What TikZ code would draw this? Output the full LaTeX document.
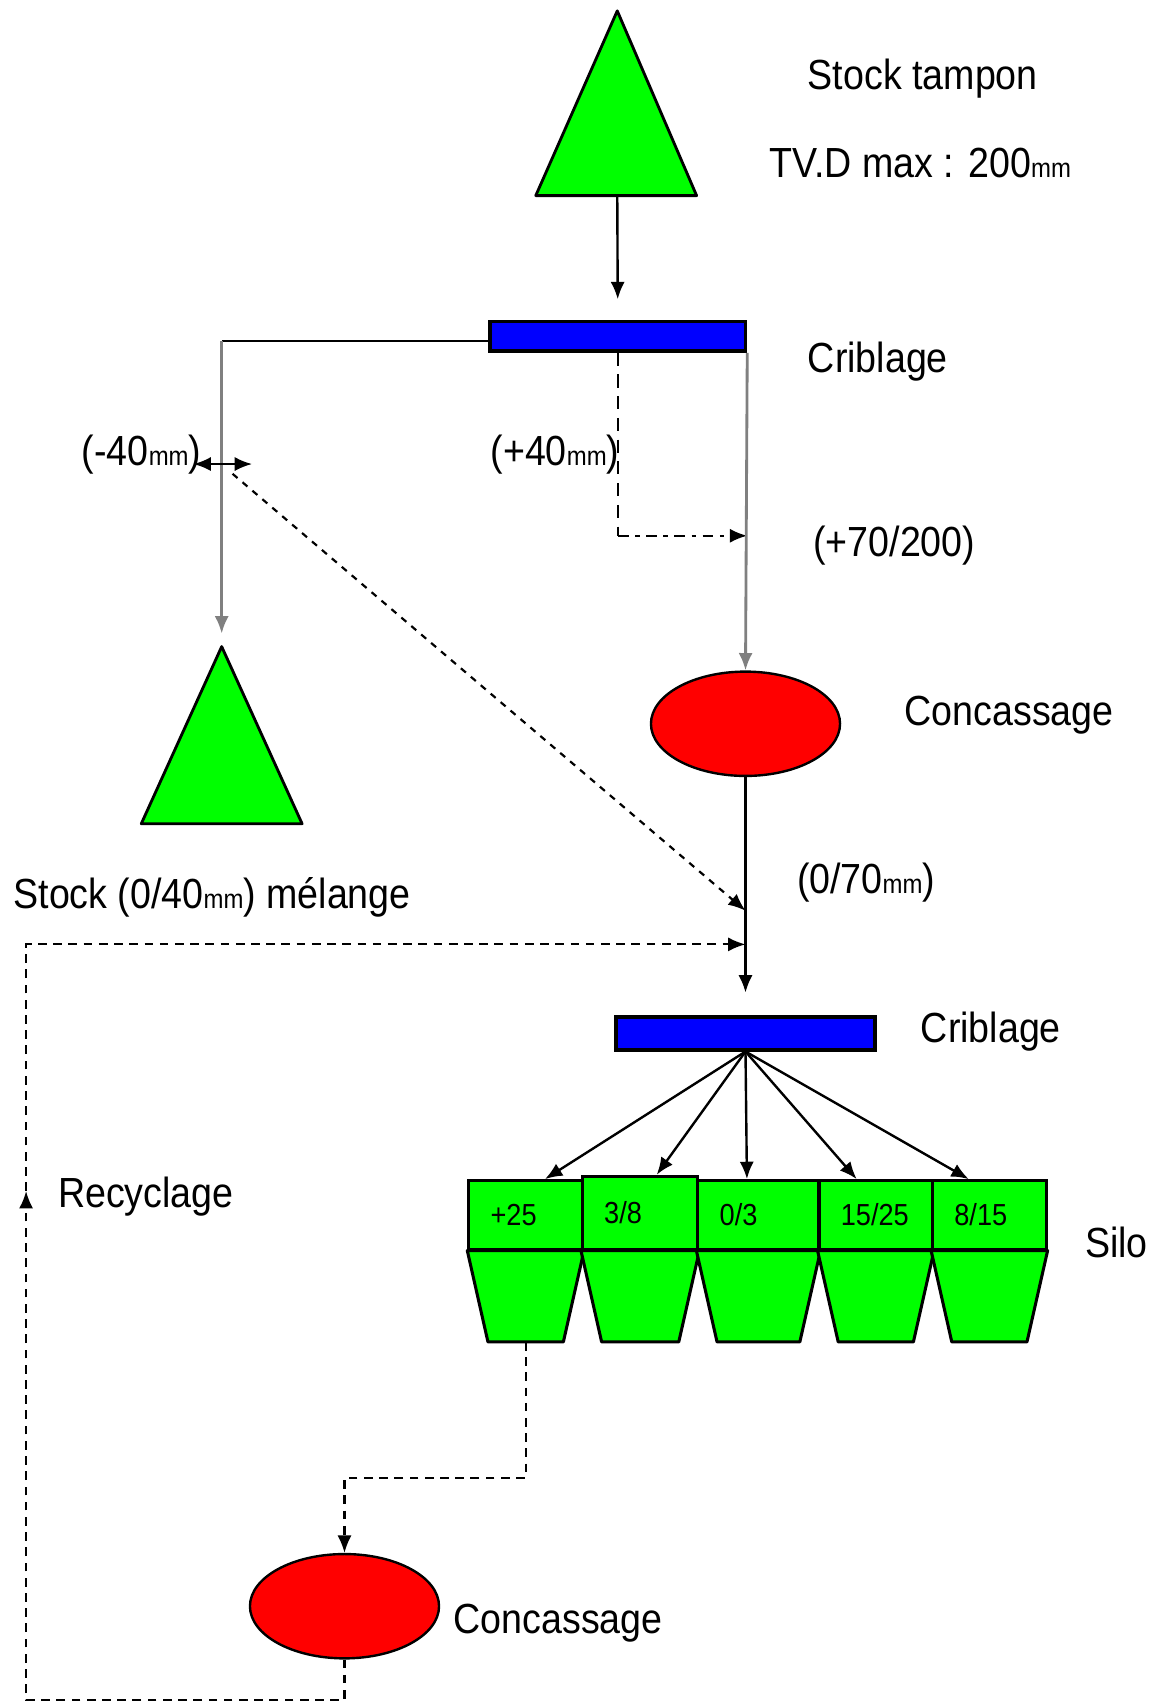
\documentclass[tikz,border=0pt]{standalone}
\usepackage{fontspec}
\setmainfont{Liberation Sans}
\usepackage{graphicx}
\usetikzlibrary{arrows.meta,shapes.geometric}

\newcommand{\etiq}[1]{\scalebox{1}[1.12]{#1}}
\newcommand{\mmu}{{\fontsize{11}{11}\selectfont mm}}

\begin{document}
\begin{tikzpicture}[
    x=0.5pt, y=-0.5pt,
    tas/.style={draw=black, fill=green, line width=1.3pt, line join=round},
    crible/.style={rectangle, draw=black, fill=blue, line width=1.6pt, inner sep=0pt},
    broyeur/.style={ellipse, draw=black, fill=red, line width=1.1pt, minimum width=87pt, minimum height=48pt, inner sep=0pt},
    case/.style={rectangle, draw=black, fill=green, line width=1.4pt, anchor=north west, inner xsep=10pt, inner ysep=0pt, align=left, text width=#1, minimum height=31.5pt, font=\fontsize{12.5}{14}\selectfont},
    texte/.style={anchor=base west, inner sep=0pt, font=\fontsize{17.3}{20}\selectfont},
    fleche/.style={-{Latex[length=8pt,width=6.5pt]}},
    trait/.style={draw=black, line width=1.1pt},
    gris/.style={draw=gray, line width=1.3pt},
    tirets/.style={draw=black, line width=1pt, dash pattern=on 4pt off 3pt}
]
\useasboundingbox (0,0) rectangle (1065,1568);

% Points des deux tas (stock tampon et stock melange)
\coordinate (t1sommet) at (568,10);
\coordinate (t1gauche) at (493,180);
\coordinate (t1droite) at (641,180);
\coordinate (t1base) at (568,180);
\coordinate (t2sommet) at (204,595);
\coordinate (t2gauche) at (130,758);
\coordinate (t2droite) at (278,758);

\draw[tas] (t1sommet) -- (t1droite) -- (t1gauche) -- cycle;
\draw[tas] (t2sommet) -- (t2droite) -- (t2gauche) -- cycle;

% Cribles et concasseurs
\node[crible, minimum width=117.5pt, minimum height=13.5pt] (crib1) at (568.5,309.5) {};
\node[crible, minimum width=119pt, minimum height=15pt] (crib2) at (686,951) {};
\node[broyeur] (conc1) at (686,666) {};
\node[broyeur] (conc2) at (317,1478) {};

% Silos
\node[case=32.3pt] (c1) at (430,1085) {\etiq{+25}};
\node[case=33.1pt, minimum height=33.5pt] (c2) at (534.6,1081) {\etiq{3/8}};
\node[case=35.7pt] (c3) at (640.8,1085) {\etiq{0/3}};
\node[case=32.2pt] (c4) at (752.3,1085) {\etiq{15/25}};
\node[case=32.2pt] (c5) at (856.8,1085) {\etiq{8/15}};
\foreach \c in {c1,c2,c3,c4,c5}
  \draw[tas, line width=1.4pt] (\c.south west) -- (\c.south east)
    -- ([xshift=-9.5pt,yshift=-42pt]\c.south east)
    -- ([xshift=9.5pt,yshift=-42pt]\c.south west) -- cycle;

% Points de passage des liaisons
\coordinate (coinG) at (204,314);
\coordinate (dblG) at (178,427);
\coordinate (dblD) at (232,427);
\coordinate (diagDep) at (214,436);
\coordinate (coude) at (568.5,493);
\coordinate (jonction1) at (686,838);
\coordinate (jonction2) at (686,869);
\coordinate (recBas) at (24,1564);
\coordinate (recFleche) at (24,1096);
\coordinate (t1bas) at ([yshift=-42pt]c1.south);
\coordinate (coude2) at (317,1360);

% Liaisons
\draw[trait, fleche, shorten >=9.5pt] (t1base) -- (crib1.north);
\draw[trait] (coinG -| crib1.west) -- (coinG);
\draw[gris, fleche, shorten >=6pt] (coinG) -- (t2sommet);
\draw[trait, {Latex[length=8pt,width=6.5pt]}-{Latex[length=8pt,width=6.5pt]}] (dblG) -- (dblD);
\draw[tirets, dash pattern=on 3pt off 3pt, fleche] (diagDep) -- (jonction1);
\draw[trait, dash pattern=on 6pt off 4pt] (crib1.south) -- (coude);
\draw[trait, dash pattern=on 5pt off 3pt on 2pt off 3pt, fleche] (coude) -- (coude -| crib1.south east);
\draw[gris, fleche] (crib1.south east) -- (conc1.north);
\draw[trait, fleche, shorten >=10.5pt] (conc1.south) -- (crib2.north);
\draw[tirets, fleche] (conc2.south) |- (recBas) -- (recFleche);
\draw[tirets, fleche] (recFleche) |- (jonction2);
\draw[tirets, fleche] (t1bas) |- (coude2) -- (conc2.north);

\draw[trait, fleche] (crib2.south) -- ([xshift=8.9pt]c1.north);
\draw[trait, fleche] (crib2.south) -- ([xshift=7.6pt]c2.north);
\draw[trait, fleche] (crib2.south) -- ([xshift=-5.3pt]c3.north);
\draw[trait, fleche] (crib2.south) -- ([xshift=-8.8pt]c4.north);
\draw[trait, fleche] (crib2.south) -- ([xshift=-9.5pt]c5.north);

% Textes
\node[texte] (nomTas1) at (743,82) {\etiq{Stock tampon}};
\node[texte] (tvd) at (708,163) {\etiq{TV.D max : 200\mmu}};
\node[texte] (nomCrib1) at (743,343) {\etiq{Criblage}};
\node[texte] (moins40) at (75,428) {\etiq{(-40\mmu)}};
\node[texte] (plus40) at (451,428) {\etiq{(+40\mmu)}};
\node[texte] (plus70) at (748,512) {\etiq{(+70/200)}};
\node[texte] (nomConc1) at (832,668) {\etiq{Concassage}};
\node[texte] (nomTas2) at (12,836) {\etiq{Stock (0/40\mmu) mélange}};
\node[texte] (zero70) at (733,822) {\etiq{(0/70\mmu)}};
\node[texte] (nomCrib2) at (847,959) {\etiq{Criblage}};
\node[texte] (nomRec) at (53,1111) {\etiq{Recyclage}};
\node[texte] (nomSilo) at (998,1157) {\etiq{Silo}};
\node[texte] (nomConc2) at (417,1503) {\etiq{Concassage}};

\end{tikzpicture}
\end{document}
